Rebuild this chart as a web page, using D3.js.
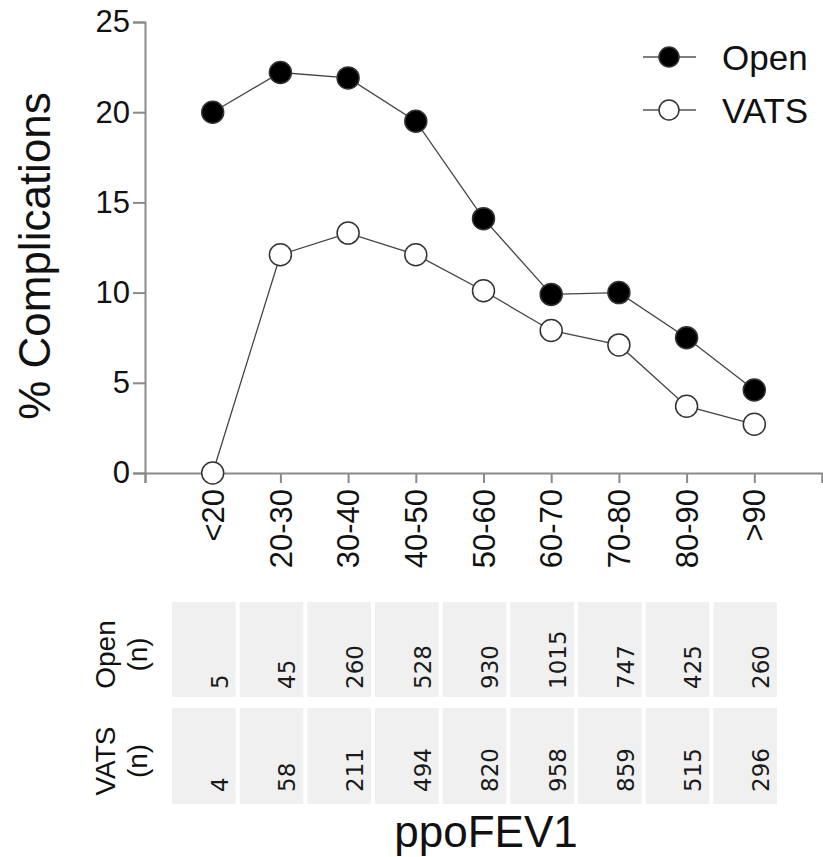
<!DOCTYPE html>
<html>
<head>
<meta charset="utf-8">
<script src="https://cdn.jsdelivr.net/npm/d3@7"></script>
<style>
body{margin:0;background:#fff;}
svg{display:block;}
</style>
</head>
<body>
<svg id="chart" width="823" height="857"></svg>
<script>
// categorias ppoFEV1
var groups = ["<20","20-30","30-40","40-50","50-60","60-70","70-80","80-90",">90"];
var openPct = [20.0, 22.2, 21.9, 19.5, 14.1, 9.9, 10.0, 7.5, 4.6];
var vatsPct = [0.0, 12.1, 13.3, 12.1, 10.1, 7.9, 7.1, 3.7, 2.7];
var openN = [5, 45, 260, 528, 930, 1015, 747, 425, 260];
var vatsN = [4, 58, 211, 494, 820, 958, 859, 515, 296];
var yTicks = [0, 5, 10, 15, 20, 25];

var svg = d3.select("#chart");
var font = "'Liberation Sans', Arial, sans-serif";

var sx = d3.scaleLinear().domain([0, 10]).range([145, 822]);
var sy = d3.scaleLinear().domain([0, 25]).range([473, 22]);

// ejes
var gy = svg.append("g").attr("transform", "translate(145,0)")
	.call(d3.axisLeft(sy).tickValues(yTicks).tickSize(12).tickPadding(3));
var gx = svg.append("g").attr("transform", "translate(0,473)")
	.call(d3.axisBottom(sx).tickValues(d3.range(0, 11)).tickSize(10).tickFormat(""));

[gx, gy].forEach(function(g){
	g.select(".domain").attr("stroke", "#8a8a8a").attr("stroke-width", 2);
	g.selectAll(".tick line").attr("stroke", "#8a8a8a").attr("stroke-width", 2);
});
gy.selectAll(".tick text").attr("font-family", font).attr("font-size", 31).attr("fill", "#111");

// etiquetas x rotadas
svg.append("g").selectAll("text")
	.data(groups).enter().append("text")
	.attr("transform", function(d, i){ return "translate(" + sx(i + 1) + ",489) rotate(-90)"; })
	.attr("text-anchor", "end")
	.attr("dy", "0.36em")
	.attr("font-family", font).attr("font-size", 31).attr("fill", "#111")
	.text(function(d){ return d; });

svg.append("text")
	.attr("transform", "translate(50,256) rotate(-90)")
	.attr("text-anchor", "middle")
	.attr("font-family", font).attr("font-size", 44).attr("fill", "#111")
	.text("% Complications");

// lineas
var line = d3.line()
	.x(function(d, i){ return sx(i + 1); })
	.y(function(d){ return sy(d); });

var series = [
	{name: "Open", vals: openPct, fill: "#000"},
	{name: "VATS", vals: vatsPct, fill: "#fff"}
];

series.forEach(function(s){
	svg.append("path").datum(s.vals)
		.attr("d", line).attr("fill", "none")
		.attr("stroke", "#444").attr("stroke-width", 1.3);
});
series.forEach(function(s){
	svg.append("g").selectAll("circle")
		.data(s.vals).enter().append("circle")
		.attr("cx", function(d, i){ return sx(i + 1); })
		.attr("cy", function(d){ return sy(d); })
		.attr("r", 11)
		.attr("fill", s.fill).attr("stroke", "#333").attr("stroke-width", 1.5);
});

// leyenda
var leg = svg.append("g").selectAll("g")
	.data(series).enter().append("g")
	.attr("transform", function(d, i){ return "translate(643," + (57 + i * 53) + ")"; });
leg.append("line").attr("x1", 0).attr("x2", 53)
	.attr("stroke", "#555").attr("stroke-width", 1.5);
leg.append("circle").attr("cx", 26).attr("r", 10)
	.attr("fill", function(d){ return d.fill; })
	.attr("stroke", "#333").attr("stroke-width", 1.5);
leg.append("text").attr("x", 79).attr("dy", "0.36em")
	.attr("font-family", font).attr("font-size", 35).attr("fill", "#111")
	.text(function(d){ return d.name; });

// tabla de n
var band = d3.scaleBand().domain(groups).range([172, 777]).paddingInner(0.06);
var rows = [
	{label: "Open", vals: openN, top: 602, bottom: 697, off: 8},
	{label: "VATS", vals: vatsN, top: 708, bottom: 804, off: 12}
];

rows.forEach(function(r){
	var g = svg.append("g");
	g.selectAll("rect").data(r.vals).enter().append("rect")
		.attr("x", function(d, i){ return band(groups[i]); })
		.attr("y", r.top)
		.attr("width", band.bandwidth())
		.attr("height", r.bottom - r.top)
		.attr("fill", "#f0f0f0");
	g.selectAll("text").data(r.vals).enter().append("text")
		.attr("transform", function(d, i){
			return "translate(" + (band(groups[i]) + band.bandwidth() - 8) + "," + (r.bottom - r.off) + ") rotate(-90)";
		})
		.attr("font-family", "'DejaVu Sans', sans-serif").attr("font-size", 23).attr("fill", "#1a1a1a")
		.text(function(d){ return d; });

	var cy = (r.top + r.bottom) / 2 + 5;
	var lab = g.append("text")
		.attr("transform", "translate(115," + cy + ") rotate(-90)")
		.attr("text-anchor", "middle")
		.attr("font-family", font).attr("font-size", 28).attr("fill", "#111");
	lab.append("tspan").attr("x", 0).attr("y", 0).text(r.label);
	lab.append("tspan").attr("x", 0).attr("y", 32).text("(n)");
});

svg.append("text")
	.attr("x", 486).attr("y", 847)
	.attr("text-anchor", "middle")
	.attr("font-family", font).attr("font-size", 44).attr("fill", "#111")
	.text("ppoFEV1");
</script>
</body>
</html>
